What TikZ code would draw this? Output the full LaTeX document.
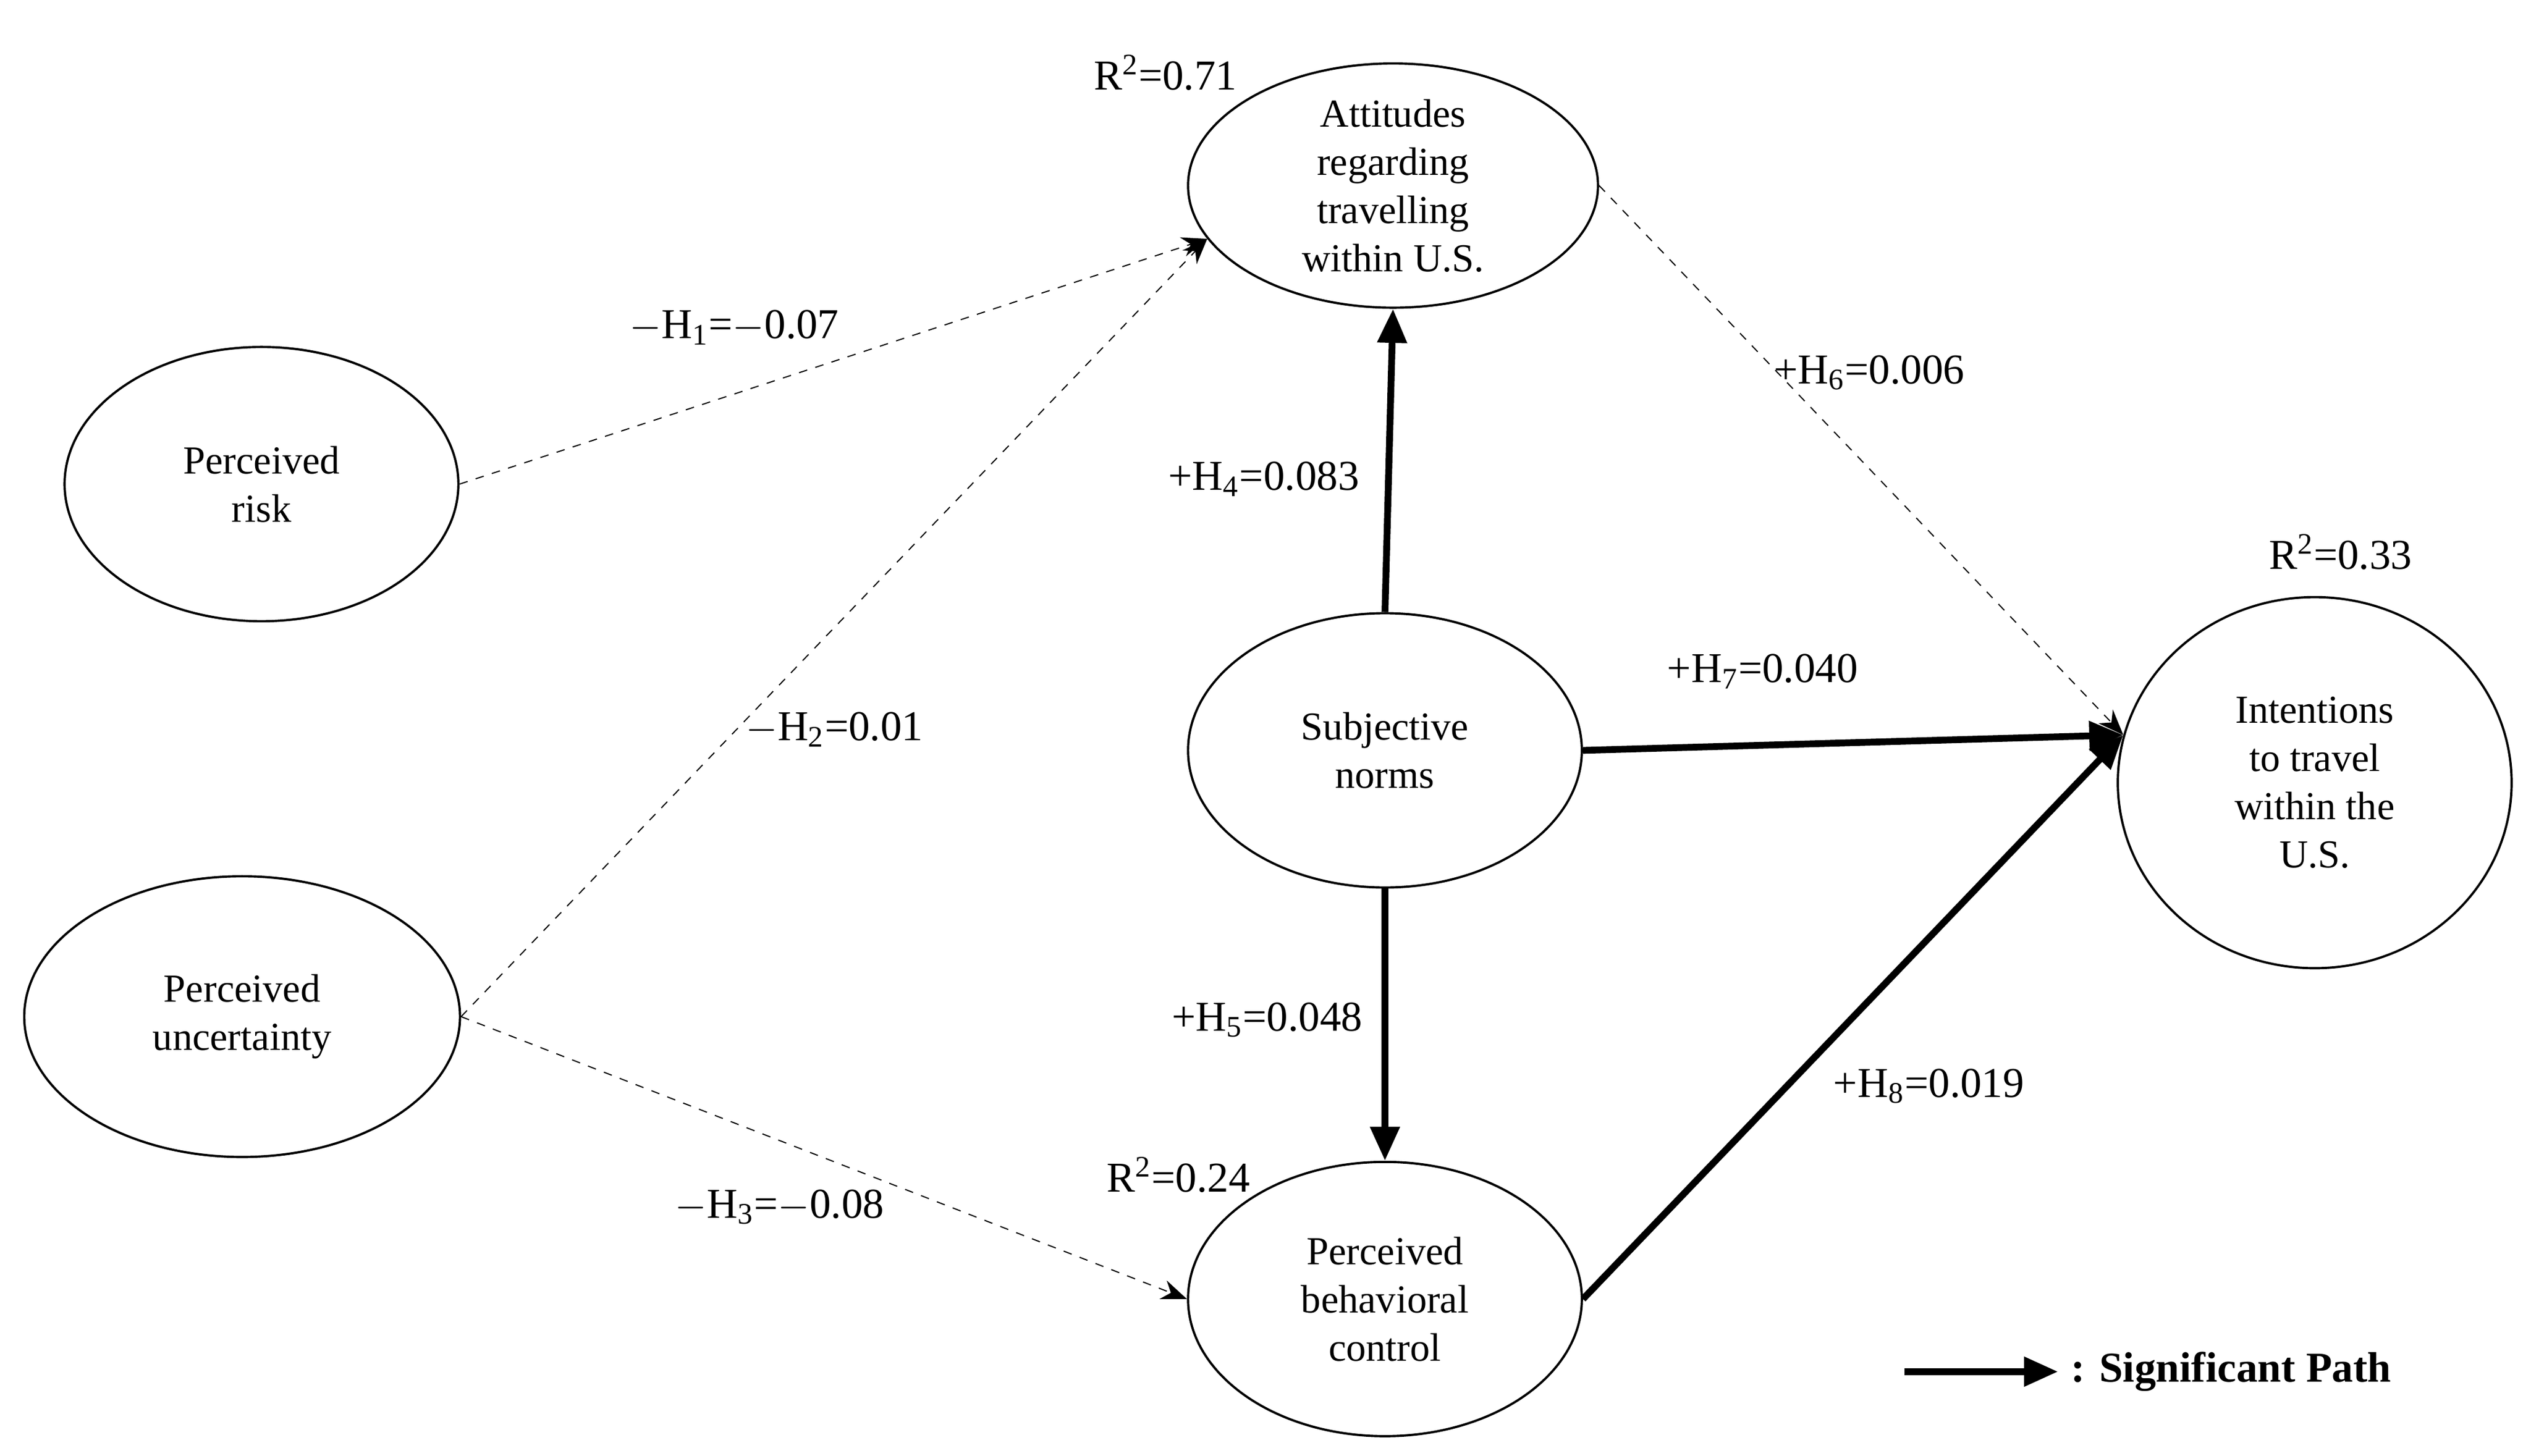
\documentclass[tikz,border=0pt]{standalone}
\usepackage{fontspec}
\setmainfont{Liberation Serif}
\usetikzlibrary{shapes.geometric,arrows.meta}
\begin{document}
\begin{tikzpicture}[
        x=0.02cm, y=-0.02cm,
        construct/.style={ellipse, draw, thick, align=center, font=\fontsize{14}{17}\selectfont, inner sep=0pt},
        weak/.style={-{Stealth[length=9pt,width=7pt]}, dashed, thin},
        strong/.style={-{Triangle[length=12pt,width=10pt]}, line width=2.4pt},
        label/.style={font=\fontsize{15}{17}\selectfont}
    ]
    \useasboundingbox (0,0) rectangle (1568,902);
    
    % Konstrukty
    \node[construct, minimum width=5.08cm, minimum height=2.92cm] (att) at (863,115) {Attitudes\\regarding\\travelling\\within U.S.};
    \node[construct, minimum width=4.88cm, minimum height=3.4cm] (risk) at (162,300) {Perceived\\risk};
    \node[construct, minimum width=5.4cm, minimum height=3.48cm] (unc) at (150,630) {Perceived\\uncertainty};
    \node[construct, minimum width=4.88cm, minimum height=3.4cm] (sn) at (858,465) {Subjective\\norms};
    \node[construct, minimum width=4.88cm, minimum height=3.4cm] (pbc) at (858,805) {Perceived\\behavioral\\control};
    \node[construct, minimum width=4.88cm, minimum height=4.6cm] (int) at (1434,485) {Intentions\\to travel\\within the\\U.S.};
    
    % R^2
    \node[label] (r1) at (722,45) {R\textsuperscript{2}=0.71};
    \node[label] (r2) at (1450,342) {R\textsuperscript{2}=0.33};
    \node[label] (r3) at (730,728) {R\textsuperscript{2}=0.24};
    
    % Cesty
    \draw[weak] (risk.east) -- (att.196);
    \draw[weak] (unc.east) -- (att.196);
    \draw[weak] (unc.east) -- (pbc.west);
    \draw[weak] (att.east) -- (int.166);
    \draw[strong] (sn.north) -- (att.south);
    \draw[strong] (sn.south) -- (pbc.north);
    \draw[strong] (sn.east) -- (int.166);
    \draw[strong] (pbc.east) -- (int.166);
    
    % Popisky cest
    \node[label] (h1) at (455,203) {$-$H\textsubscript{1}=$-$0.07};
    \node[label] (h2) at (517,452) {$-$H\textsubscript{2}=0.01};
    \node[label] (h3) at (483,748) {$-$H\textsubscript{3}=$-$0.08};
    \node[label] (h4) at (783,297) {+H\textsubscript{4}=0.083};
    \node[label] (h5) at (785,632) {+H\textsubscript{5}=0.048};
    \node[label] (h6) at (1158,231) {+H\textsubscript{6}=0.006};
    \node[label] (h7) at (1092,416) {+H\textsubscript{7}=0.040};
    \node[label] (h8) at (1195,673) {+H\textsubscript{8}=0.019};
    
    % Legenda
    \coordinate (lega) at (1180,850);
    \coordinate (legb) at (1275,850);
    \draw[strong] (lega) -- (legb) node[right, font=\fontsize{15}{17}\selectfont\bfseries] {: Significant Path};
\end{tikzpicture}
\end{document}
